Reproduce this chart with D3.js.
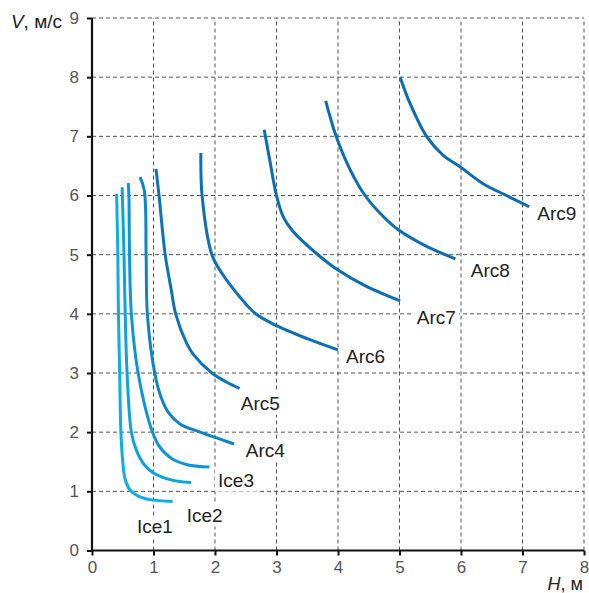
<!DOCTYPE html>
<head>
  <meta charset="utf-8">
  <script src="https://d3js.org/d3.v7.min.js"></script>
  <style>
    body { margin:0; background:#fff; }
    text { font-family: "Liberation Sans", Arial, sans-serif; }
    .grid line { stroke: #555; stroke-width: 1px; stroke-dasharray: 4,3; }
    .curve { fill: none; stroke-width: 3px; stroke-linecap: butt; }
  </style>
</head>

<body>
  <script>
    // tick labels
    var xTicks = [0, 1, 2, 3, 4, 5, 6, 7, 8];
    var yTicks = [0, 1, 2, 3, 4, 5, 6, 7, 8, 9];

    // curves, [H (m), V (m/s)]
    var ice1 = [[0.40,6.03],[0.42,5.0],[0.43,4.0],[0.45,3.0],[0.47,2.0],[0.50,1.5],[0.54,1.2],[0.62,1.02],[0.75,0.92],[0.95,0.86],[1.31,0.83]];
    var ice2 = [[0.49,6.14],[0.52,5.0],[0.54,4.0],[0.57,3.0],[0.64,2.0],[0.72,1.7],[0.85,1.45],[1.0,1.31],[1.3,1.19],[1.61,1.15]];
    var ice3 = [[0.59,6.21],[0.60,6.0],[0.61,5.0],[0.64,4.0],[0.75,3.0],[0.97,2.04],[1.10,1.75],[1.30,1.55],[1.55,1.45],[1.91,1.41]];
    var arc4 = [[0.78,6.31],[0.85,6.09],[0.88,5.0],[0.90,4.0],[1.02,3.0],[1.12,2.6],[1.25,2.32],[1.43,2.14],[1.76,2.0],[2.31,1.80]];
    var arc5 = [[1.04,6.45],[1.09,6.0],[1.19,5.0],[1.29,4.4],[1.36,4.0],[1.54,3.5],[1.65,3.31],[1.95,3.0],[2.20,2.84],[2.40,2.74]];
    var arc6 = [[1.77,6.72],[1.79,6.0],[1.95,5.0],[2.11,4.69],[2.40,4.29],[2.65,4.01],[3.0,3.80],[3.5,3.58],[4.0,3.39]];
    var arc7 = [[2.80,7.11],[2.89,6.6],[3.0,6.0],[3.11,5.64],[3.27,5.39],[3.65,5.02],[4.0,4.74],[4.47,4.46],[5.01,4.22]];
    var arc8 = [[3.80,7.60],[3.97,7.0],[4.20,6.43],[4.44,6.0],[4.74,5.64],[4.98,5.42],[5.44,5.14],[5.91,4.93]];
    var arc9 = [[5.01,8.0],[5.17,7.56],[5.44,7.0],[5.71,6.68],[5.98,6.49],[6.36,6.2],[6.74,6.0],[7.11,5.81]];

    var names = ["Ice1", "Ice2", "Ice3", "Arc4", "Arc5", "Arc6", "Arc7", "Arc8", "Arc9"];
    var curves = [ice1, ice2, ice3, arc4, arc5, arc6, arc7, arc8, arc9];
    // where each name sits (H, V of the text start / baseline)
    var labelAt = [[0.73,0.29],[1.54,0.49],[2.05,1.08],[2.50,1.58],[2.42,2.38],[4.13,3.17],[5.28,3.83],[6.16,4.62],[7.24,5.58]];
    var colors = ["#0aaeec", "#0ba3e3", "#0c95d8", "#0b84ca", "#0a74bc", "#0a70b8", "#0a6db5", "#0a6db5", "#0a6db5"];

    var svg = d3.select("body").append("svg")
      .attr("width", 589)
      .attr("height", 593);

    var x = d3.scaleLinear().domain([0, 8]).range([92, 584]);
    var y = d3.scaleLinear().domain([0, 9]).range([550.5, 18]);

    // dashed grid
    var grid = svg.append("g").attr("class", "grid");
    grid.selectAll(".gx").data(xTicks.slice(1)).enter().append("line")
      .attr("x1", function(d) { return x(d); })
      .attr("x2", function(d) { return x(d); })
      .attr("y1", y(0)).attr("y2", y(9));
    grid.selectAll(".gy").data(yTicks.slice(1)).enter().append("line")
      .attr("x1", x(0)).attr("x2", x(8))
      .attr("y1", function(d) { return y(d); })
      .attr("y2", function(d) { return y(d); });

    // label boxes knock out the grid
    var labels = svg.append("g");
    var texts = labels.selectAll("text").data(names).enter().append("text")
      .attr("x", function(d, i) { return x(labelAt[i][0]); })
      .attr("y", function(d, i) { return y(labelAt[i][1]); })
      .attr("font-size", "19px")
      .attr("fill", "#222")
      .text(function(d) { return d; });
    texts.each(function() {
      var b = this.getBBox();
      labels.insert("rect", "text")
        .attr("x", b.x - 3).attr("y", b.y - 1)
        .attr("width", b.width + 6).attr("height", b.height + 2)
        .attr("fill", "#fff");
    });

    // curves
    var line = d3.line()
      .x(function(d) { return x(d[0]); })
      .y(function(d) { return y(d[1]); })
      .curve(d3.curveCatmullRom.alpha(0.5));
    svg.append("g").selectAll("path").data(curves).enter().append("path")
      .attr("class", "curve")
      .attr("stroke", function(d, i) { return colors[i]; })
      .attr("d", line);

    // axes
    var xAxis = svg.append("g")
      .attr("transform", "translate(0," + y(0) + ")")
      .call(d3.axisBottom(x).tickValues(xTicks).tickSize(5).tickPadding(5).tickFormat(d3.format("d")));
    var yAxis = svg.append("g")
      .attr("transform", "translate(" + x(0) + ",0)")
      .call(d3.axisLeft(y).tickValues(yTicks).tickSize(5).tickPadding(8).tickFormat(d3.format("d")));
    [xAxis, yAxis].forEach(function(a) {
      a.select(".domain").attr("stroke", "#111").attr("stroke-width", 2.2);
      a.selectAll(".tick line").attr("stroke", "#111").attr("stroke-width", 2);
      a.selectAll(".tick text")
        .attr("font-family", "Liberation Sans, Arial, sans-serif")
        .attr("font-size", "17px")
        .attr("fill", "#555");
    });
    xAxis.select(".domain").attr("d", "M" + x(0) + ",0H" + x(8));
    yAxis.select(".domain").attr("d", "M0," + y(0) + "V" + y(9));

    // axis titles
    var yt = svg.append("text").attr("x", 62).attr("y", 28)
      .attr("text-anchor", "end").attr("font-size", "19px").attr("fill", "#222");
    yt.append("tspan").attr("font-style", "italic").text("V");
    yt.append("tspan").text(", м/с");

    var xt = svg.append("text").attr("x", 583).attr("y", 590)
      .attr("text-anchor", "end").attr("font-size", "18px").attr("fill", "#222");
    xt.append("tspan").attr("font-style", "italic").text("H");
    xt.append("tspan").text(", м");
  </script>
</body>
